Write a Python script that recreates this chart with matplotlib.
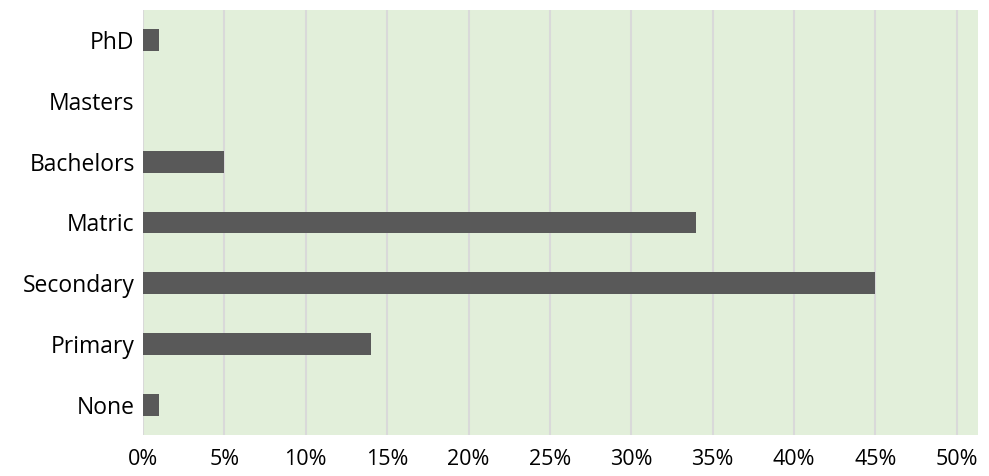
import matplotlib.pyplot as plt
from matplotlib.ticker import FuncFormatter

categories = ['None', 'Primary', 'Secondary', 'Matric', 'Bachelors', 'Masters', 'PhD']
values = [1, 14, 45, 34, 5, 0, 1]
xticks = [0, 5, 10, 15, 20, 25, 30, 35, 40, 45, 50]

plt.rcParams['font.family'] = ['Open Sans', 'DejaVu Sans']

fig = plt.figure(figsize=(9.89, 4.76), dpi=100)
ax = fig.add_axes([0.1446, 0.0861, 0.8443, 0.893])
ax.set_facecolor('#E2EFDA')

ax.barh(range(len(categories)), values, height=0.36, color='#595959', zorder=3)

ax.set_xlim(0, 51.3)
ax.set_ylim(-0.5, 6.5)
ax.set_xticks(xticks)
ax.xaxis.set_major_formatter(FuncFormatter(lambda v, p: f'{v:.0f}%'))
ax.set_yticks(range(len(categories)))
ax.set_yticklabels(categories)

ax.grid(axis='x', color='#D9D9D9', linewidth=1.5, zorder=1)
ax.grid(axis='y', visible=False)
for s in ax.spines.values():
    s.set_visible(False)
ax.tick_params(axis='y', length=0, labelsize=16.5, colors='#000000', pad=6)
ax.tick_params(axis='x', length=0, labelsize=15.5, colors='#000000', pad=10)

fig.savefig('out.png', dpi=100)
